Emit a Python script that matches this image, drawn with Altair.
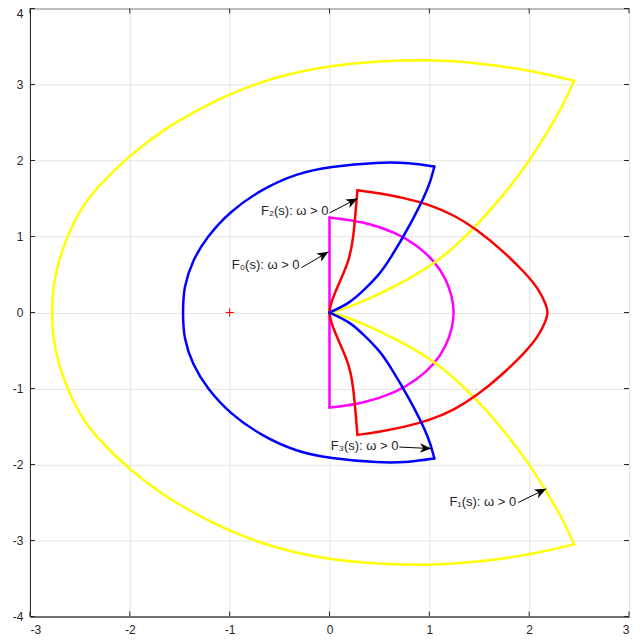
import math
import altair as alt
import pandas as pd

# ---------------- data ----------------
# F0 (magenta)
f0_pos_x = [0, 0, 0, 0, 0]
f0_pos_y = [0, 0.3, 0.6, 0.9, 1.25]
f0_arc_x = [0, 0.33, 0.67, 0.88, 1.05, 1.17, 1.23, 1.25, 1.23, 1.17, 1.05, 0.88, 0.67, 0.33, 0]
f0_arc_y = [1.25, 1.2, 1.05, 0.88, 0.68, 0.44, 0.2, 0, -0.2, -0.44, -0.68, -0.88, -1.05, -1.2, -1.25]
f0_neg_x = [0, 0, 0, 0, 0]
f0_neg_y = [-1.25, -0.9, -0.6, -0.3, 0]

# F1 (yellow)
f1_pos_x = [0, 0.1, 0.33, 0.67, 1.0, 1.2, 1.47, 1.73, 2.0, 2.17, 2.33, 2.45]
f1_pos_y = [0, 0.03, 0.14, 0.35, 0.6, 0.8, 1.14, 1.52, 1.99, 2.35, 2.7, 3.05]
f1_arc_x = [2.45, 2.0, 1.5, 1.0, 0.5, 0, -0.5, -1.0, -1.33, -1.67, -2.01, -2.33, -2.5, -2.63, -2.71, -2.77, -2.78,
            -2.77, -2.71, -2.63, -2.5, -2.33, -2.01, -1.67, -1.33, -1.0, -0.5, 0, 0.5, 1.0, 1.5, 2.0, 2.45]
f1_arc_y = [3.05, 3.19, 3.28, 3.33, 3.31, 3.25, 3.12, 2.88, 2.66, 2.4, 2.06, 1.65, 1.35, 0.99, 0.69, 0.34, 0,
            -0.34, -0.69, -0.99, -1.35, -1.65, -2.06, -2.4, -2.66, -2.88, -3.12, -3.25, -3.31, -3.33, -3.28, -3.19, -3.05]
f1_neg_x = [2.45, 2.33, 2.17, 2.0, 1.73, 1.47, 1.2, 1.0, 0.67, 0.33, 0.1, 0]
f1_neg_y = [-3.05, -2.7, -2.35, -1.99, -1.52, -1.14, -0.8, -0.6, -0.35, -0.14, -0.03, 0]

# F2 (red)
f2_pos_x = [0, 0.01, 0.1, 0.2, 0.24, 0.26, 0.28]
f2_pos_y = [0, 0.12, 0.4, 0.69, 1.0, 1.3, 1.61]
f2_arc_x = [0.28, 0.5, 0.77, 1.0, 1.25, 1.47, 1.73, 1.97, 2.1, 2.17, 2.19,
            2.17, 2.1, 1.97, 1.73, 1.47, 1.25, 1.0, 0.77, 0.5, 0.28]
f2_arc_y = [1.61, 1.57, 1.5, 1.42, 1.28, 1.1, 0.82, 0.51, 0.3, 0.1, 0,
            -0.1, -0.3, -0.51, -0.82, -1.1, -1.28, -1.42, -1.5, -1.57, -1.61]
f2_neg_x = [0.28, 0.26, 0.24, 0.2, 0.1, 0.01, 0]
f2_neg_y = [-1.61, -1.3, -1.0, -0.69, -0.4, -0.12, 0]

# F3 (blue)
f3_pos_x = [0, 0.2, 0.35, 0.5, 0.6, 0.8, 1.0, 1.05]
f3_pos_y = [0, 0.12, 0.3, 0.5, 0.69, 1.13, 1.65, 1.92]
f3_arc_x = [1.05, 0.8, 0.5, 0, -0.33, -0.67, -1.0, -1.23, -1.37, -1.46, -1.47,
            -1.46, -1.37, -1.23, -1.0, -0.67, -0.33, 0, 0.5, 0.8, 1.05]
f3_arc_y = [1.92, 1.97, 1.98, 1.92, 1.83, 1.63, 1.33, 0.99, 0.69, 0.34, 0,
            -0.34, -0.69, -0.99, -1.33, -1.63, -1.83, -1.92, -1.98, -1.97, -1.92]
f3_neg_x = [1.05, 1.0, 0.8, 0.6, 0.5, 0.35, 0.2, 0]
f3_neg_y = [-1.92, -1.65, -1.13, -0.69, -0.5, -0.3, -0.12, 0]

# critical point
crit_x = [-1]
crit_y = [0]

# annotations
ann_text = ["F\u2080(s): \u03c9 > 0", "F\u2082(s): \u03c9 > 0", "F\u2083(s): \u03c9 > 0", "F\u2081(s): \u03c9 > 0"]
ann_tx = [-0.29, 0.0, 0.70, 1.88]
ann_ty = [0.63, 1.34, -1.76, -2.49]
arr_x0 = [-0.28, 0.0, 0.70, 1.89]
arr_y0 = [0.59, 1.31, -1.77, -2.50]
arr_x1 = [-0.01, 0.28, 1.02, 2.17]
arr_y1 = [0.80, 1.50, -1.79, -2.32]

x_ticks = [-3, -2, -1, 0, 1, 2, 3]
y_ticks = [-4, -3, -2, -1, 0, 1, 2, 3, 4]

# ---------------- chart ----------------
W, H = 600, 609
FONT = "Liberation Sans"
AX = "#262626"

xscale = alt.Scale(domain=[-3, 3], nice=False, zero=False)
yscale = alt.Scale(domain=[-4, 4], nice=False, zero=False)
xaxis = alt.Axis(values=x_ticks, labelExpr="'' + datum.value", grid=True, gridColor="#e4e4e4", ticks=False,
                 domainColor=AX, labelColor=AX, labelFont=FONT, labelFontSize=12,
                 labelPadding=8, title=None)
yaxis = alt.Axis(values=y_ticks, labelExpr="'' + datum.value", grid=True, gridColor="#e4e4e4", ticks=False,
                 domainColor=AX, labelColor=AX, labelFont=FONT, labelFontSize=12,
                 labelBaseline={"condition": {"test": "datum.value == 4", "value": "top"}, "value": "middle"},
                 labelPadding=7, title=None)


def X(f):
    return alt.X(f, type="quantitative", scale=xscale, axis=xaxis)


def Y(f):
    return alt.Y(f, type="quantitative", scale=yscale, axis=yaxis)


def curve(segs):
    rows = []
    for name, xs, ys in segs:
        for i, (a, b) in enumerate(zip(xs, ys)):
            rows.append({"seg": name, "i": i, "x": a, "y": b})
    return pd.DataFrame(rows)


def curve_layer(df, color):
    return alt.Chart(df).mark_line(color=color, strokeWidth=2.5, interpolate="basis",
                                   strokeCap="round", strokeJoin="round").encode(
        x=X("x"), y=Y("y"), detail="seg:N", order="i:Q")


d0 = curve([("p", f0_pos_x, f0_pos_y), ("a", f0_arc_x, f0_arc_y), ("n", f0_neg_x, f0_neg_y)])
d1 = curve([("p", f1_pos_x, f1_pos_y), ("a", f1_arc_x, f1_arc_y), ("n", f1_neg_x, f1_neg_y)])
d2 = curve([("p", f2_pos_x, f2_pos_y), ("a", f2_arc_x, f2_arc_y), ("n", f2_neg_x, f2_neg_y)])
d3 = curve([("p", f3_pos_x, f3_pos_y), ("a", f3_arc_x, f3_arc_y), ("n", f3_neg_x, f3_neg_y)])

tx = pd.DataFrame({"t": x_ticks})
ty = pd.DataFrame({"t": y_ticks})
tick_b = alt.Chart(tx).mark_rule(color=AX, strokeWidth=1).encode(x=X("t"), y=alt.value(H), y2=alt.value(H - 5))
tick_t = alt.Chart(tx).mark_rule(color=AX, strokeWidth=1).encode(x=X("t"), y=alt.value(0), y2=alt.value(5))
tick_l = alt.Chart(ty).mark_rule(color=AX, strokeWidth=1).encode(y=Y("t"), x=alt.value(0), x2=alt.value(5))
tick_r = alt.Chart(ty).mark_rule(color=AX, strokeWidth=1).encode(y=Y("t"), x=alt.value(W), x2=alt.value(W - 5))

crit = alt.Chart(pd.DataFrame({"x": crit_x, "y": crit_y})).mark_point(
    shape="M-1,0L1,0M0,-1L0,1", size=70, filled=False, color="#ff0000", strokeWidth=1, opacity=1
).encode(x=X("x"), y=Y("y"))

ann = pd.DataFrame({"text": ann_text, "tx": ann_tx, "ty": ann_ty,
                    "x0": arr_x0, "y0": arr_y0, "x1": arr_x1, "y1": arr_y1})
sx = W / 6.0
sy = H / 8.0
ann["ang"] = [(math.degrees(math.atan2(-(b1 - b0) * sy, (a1 - a0) * sx)) + 360) % 360
              for a0, b0, a1, b1 in zip(arr_x0, arr_y0, arr_x1, arr_y1)]

shafts = alt.Chart(ann).mark_rule(color="black", strokeWidth=1).encode(
    x=X("x0"), y=Y("y0"), x2="x1:Q", y2="y1:Q")
heads = alt.Chart(ann).mark_point(
    shape="M0,0L-1,-0.42L-0.72,0L-1,0.42Z", size=520, filled=True, color="black",
    strokeWidth=0, opacity=1
).encode(x=X("x1"), y=Y("y1"), angle=alt.Angle("ang:Q", scale=None))
labels = alt.Chart(ann).mark_text(align="right", baseline="middle", font=FONT, fontSize=13,
                                  color="#262626", dx=-1).encode(
    x=X("tx"), y=Y("ty"), text="text:N")

chart = alt.layer(
    tick_b, tick_t, tick_l, tick_r,
    curve_layer(d0, "#ff00ff"),
    curve_layer(d1, "#ffff00"),
    curve_layer(d2, "#ff0000"),
    curve_layer(d3, "#0000ff"),
    crit, shafts, heads, labels,
).properties(
    width=W, height=H,
    autosize=alt.AutoSizeParams(type="none"),
    padding={"left": 22, "top": 0, "right": 6, "bottom": 22},
    background="white",
).configure_view(stroke=AX, strokeWidth=1)

chart.save("out.html", embed_options={"renderer": "svg", "actions": False})
